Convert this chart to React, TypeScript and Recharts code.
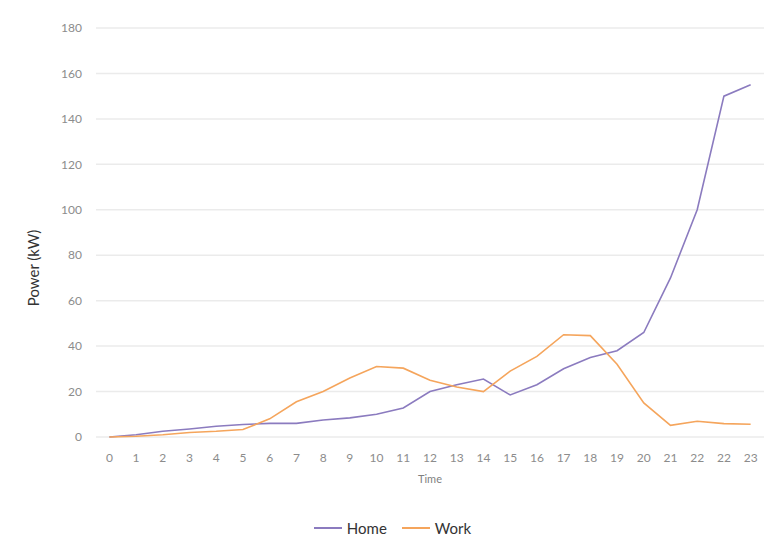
import { LineChart, Line, XAxis, YAxis, CartesianGrid, Legend } from "recharts";

const hours = [
  "0", "1", "2", "3", "4", "5", "6", "7", "8", "9", "10", "11", "12",
  "13", "14", "15", "16", "17", "18", "19", "20", "21", "22", "22", "23",
];
const home = [
  0, 1, 2.5, 3.5, 4.7, 5.5, 6, 6, 7.5, 8.4, 10, 12.8, 20, 23, 25.5, 18.5, 23,
  30, 35, 38, 46, 70, 100, 150, 155,
];
const work = [
  0, 0.3, 1, 2, 2.5, 3.3, 8, 15.5, 20, 26, 31, 30.3, 25, 22, 20, 29, 35.5, 45,
  44.6, 32, 15, 5.1, 6.9, 5.9, 5.6,
];
const yTicks = [0, 20, 40, 60, 80, 100, 120, 140, 160, 180];

const HOME_COLOR = "#8b7bbf";
const WORK_COLOR = "#f5a55c";
const FONT = "Lato, 'Open Sans', sans-serif";

// slot is the x key so the repeated "22" label keeps its own slot
const data = hours.map((h, i) => ({ slot: `s${i}`, hour: h, Home: home[i], Work: work[i] }));
const slots = data.map((d) => d.slot);

function PowerLabel() {
  return (
    <text
      x={24.5}
      y={260}
      transform="rotate(-90, 24.5, 260)"
      textAnchor="middle"
      dominantBaseline="central"
      fontSize={15}
      fill="#333"
      fontFamily={FONT}
    >
      Power (kW)
    </text>
  );
}

function HourTick(props: any) {
  const { x, y, payload } = props;
  const i = Number(String(payload.value).slice(1));
  return (
    <g transform={`translate(${x},${y})`}>
      <text dy="0.71em" textAnchor="middle" fontSize={12} fill="#8c8c8c" fontFamily={FONT}>
        {hours[i]}
      </text>
    </g>
  );
}

function LegendContent() {
  const items = [
    { name: "Home", color: HOME_COLOR },
    { name: "Work", color: WORK_COLOR },
  ];
  return (
    <div
      style={{
        display: "flex",
        justifyContent: "center",
        alignItems: "center",
        height: 24,
        paddingLeft: 28,
        fontFamily: FONT,
        fontSize: 15,
        color: "#333",
      }}
    >
      {items.map((it) => (
        <div key={it.name} style={{ display: "flex", alignItems: "center", marginRight: 15 }}>
          <span
            style={{
              display: "inline-block",
              width: 28,
              height: 0,
              borderTop: `2px solid ${it.color}`,
              marginRight: 5,
            }}
          />
          <span>{it.name}</span>
        </div>
      ))}
    </div>
  );
}

export default function App() {
  return (
    <div style={{ position: "relative", width: 764, height: 547 }}>
      <div
        style={{
          position: "absolute",
          left: -1,
          top: -1,
          width: 765,
          height: 548,
          boxSizing: "border-box",
          borderLeft: "1px solid #e2e2e2",
          borderTop: "1px solid #e2e2e2",
          pointerEvents: "none",
        }}
      />
      <LineChart
        width={764}
        height={547}
        data={data}
        margin={{ top: 20, right: 8, left: 0, bottom: 15 }}
        style={{ fontFamily: FONT }}
      >
        <CartesianGrid vertical={false} stroke="#ebebeb" strokeWidth={1.5} />
        <XAxis
          dataKey="slot"
          type="category"
          scale="band"
          ticks={slots}
          axisLine={false}
          tickLine={false}
          tickMargin={10}
          height={79}
          interval={0}
          tick={<HourTick />}
          label={{
            value: "Time",
            position: "insideTop",
            offset: 38,
            fontSize: 11,
            fill: "#7f7f7f",
          }}
        />
        <YAxis
          domain={[0, 180]}
          ticks={yTicks}
          axisLine={false}
          tickLine={false}
          tickMargin={8}
          width={88}
          tick={{ fontSize: 12, fill: "#8c8c8c" }}
          label={<PowerLabel />}
        />
        <Legend verticalAlign="bottom" height={24} content={<LegendContent />} />
        <Line
          type="linear"
          dataKey="Home"
          stroke={HOME_COLOR}
          strokeWidth={1.6}
          dot={false}
          isAnimationActive={false}
        />
        <Line
          type="linear"
          dataKey="Work"
          stroke={WORK_COLOR}
          strokeWidth={1.6}
          dot={false}
          isAnimationActive={false}
        />
      </LineChart>
    </div>
  );
}
